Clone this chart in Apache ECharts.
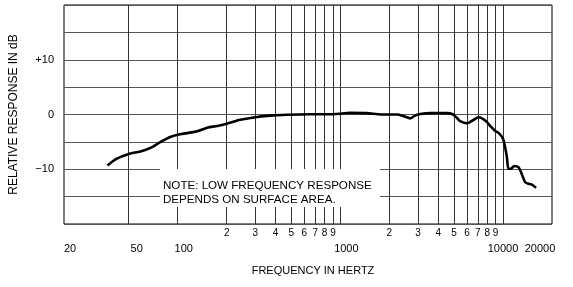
<!DOCTYPE html>
<html>
<head>
<meta charset="utf-8">
<script src="https://cdn.jsdelivr.net/npm/echarts@6/dist/echarts.min.js"></script>
<style>
html,body{margin:0;padding:0;background:#fff;}
#chart{width:573px;height:287px;}
</style>
</head>
<body>
<div id="chart"></div>
<script>
// Frequency (Hz) and relative response (dB)
const freqs = [37, 42, 50, 59, 68, 78, 90, 100, 114, 132, 152, 175, 200, 243, 300, 354, 470, 650, 800, 1000, 1150, 1450, 1800, 2230, 2450, 2690, 2880, 3100, 3600, 4500, 4900, 5200, 5450, 6000, 6580, 7100, 7770, 8530, 8950, 9420, 9980, 10300, 10560, 10800, 11170, 11700, 12440, 13050, 13680, 14330, 15030, 15960];
const dbs   = [-9.3, -8.1, -7.2, -6.75, -6.1, -5.05, -4.1, -3.7, -3.4, -3.05, -2.4, -2.1, -1.7, -0.97, -0.5, -0.25, -0.05, 0.05, 0.05, 0.15, 0.3, 0.25, 0, 0, -0.3, -0.7, -0.2, 0.1, 0.25, 0.25, 0.05, -0.6, -1.2, -1.6, -1.0, -0.5, -1.1, -2.4, -3.0, -3.4, -4.4, -6.0, -7.8, -9.9, -9.9, -9.4, -9.6, -10.9, -12.35, -12.65, -12.8, -13.4];

// Axis ticks / grid lines
const majorTicks = [20, 50, 100, 1000, 10000, 20000];
const minorTicks = [200, 300, 400, 500, 600, 700, 800, 900, 2000, 3000, 4000, 5000, 6000, 7000, 8000, 9000];
const gridFreqs = [50, 100, 200, 300, 400, 500, 600, 700, 800, 900, 1000, 2000, 3000, 4000, 5000, 6000, 7000, 8000, 9000, 10000];
const yLabels = {'-10': '\u221210', '0': '0', '10': '+10'};
const noteLines = ['NOTE: LOW FREQUENCY RESPONSE', 'DEPENDS ON SURFACE AREA.'];

const FONT = '"Liberation Sans", Arial, Helvetica, sans-serif';
const chart = echarts.init(document.getElementById('chart'), null, {renderer: 'canvas'});

const majorRich = {
  a: {fontSize: 11, fontFamily: FONT, color: '#000', padding: [0, 0, 0, 12]},
  b: {fontSize: 11, fontFamily: FONT, color: '#000', padding: [0, 0, 0, 16]},
  c: {fontSize: 11, fontFamily: FONT, color: '#000', padding: [0, 0, 0, 0]},
  d: {fontSize: 11, fontFamily: FONT, color: '#000', padding: [0, 24, 0, 0]}
};

chart.setOption({
  animation: false,
  backgroundColor: '#fff',
  grid: {left: 63, right: 21, top: 5, bottom: 63, show: true, borderColor: '#000', borderWidth: 1, backgroundColor: 'transparent'},
  xAxis: [{
    type: 'log', logBase: 10, min: 20, max: 20000,
    name: 'FREQUENCY IN HERTZ', nameLocation: 'middle', nameGap: 41,
    nameTextStyle: {fontSize: 11, fontFamily: FONT, color: '#000', padding: [0, 0, 0, 10]},
    axisLine: {show: false}, axisTick: {show: false}, splitLine: {show: false}, minorSplitLine: {show: false},
    axisLabel: {
      customValues: majorTicks, margin: 19, fontSize: 11, fontFamily: FONT, color: '#000',
      formatter: function (v) {
        const r = Math.round(v);
        if (r === 50) return '{b|' + r + '}';
        if (r === 10000) return '{c|' + r + '}';
        if (r === 20000) return '{d|' + r + '}';
        return '{a|' + r + '}';
      },
      rich: majorRich
    }
  }, {
    type: 'log', logBase: 10, min: 20, max: 20000, position: 'bottom', gridIndex: 0,
    axisLine: {show: false}, axisTick: {show: false}, splitLine: {show: false},
    axisLabel: {
      customValues: minorTicks, margin: 4, fontSize: 10, fontFamily: FONT, color: '#000',
      formatter: function (v) {
        const r = Math.round(v);
        return String(r).charAt(0);
      }
    }
  }],
  yAxis: {
    type: 'value', min: -20, max: 20, interval: 5,
    name: 'RELATIVE RESPONSE IN dB', nameLocation: 'middle', nameGap: 44, nameRotate: 90,
    nameTextStyle: {fontSize: 12, fontFamily: FONT, color: '#000'},
    axisLine: {show: false}, axisTick: {show: false},
    splitLine: {show: true, lineStyle: {color: '#555', width: 1}},
    axisLabel: {
      margin: 10, fontSize: 11, fontFamily: FONT, color: '#000',
      formatter: function (v) { return yLabels[String(v)] || ''; }
    }
  },
  series: [{
    type: 'line',
    xAxisIndex: 0,
    data: freqs.map((f, i) => [f, dbs[i]]),
    smooth: 0.3,
    showSymbol: false,
    symbol: 'none',
    lineStyle: {color: '#000', width: 2.6},
    z: 5,
    markLine: {
      silent: true, symbol: ['none', 'none'], animation: false,
      label: {show: false},
      lineStyle: {color: '#333', width: 1, type: 'solid'},
      data: gridFreqs.map(v => ({xAxis: v}))
    }
  }],
  graphic: [
    {type: 'rect', z: 100, zlevel: 1, shape: {x: 160, y: 169, width: 220, height: 38}, style: {fill: '#fff'}},
    {type: 'text', z: 101, zlevel: 1, x: 163, y: 186, style: {text: noteLines[0], font: '11.6px ' + FONT, fill: '#000', textVerticalAlign: 'middle'}},
    {type: 'text', z: 101, zlevel: 1, x: 163, y: 200, style: {text: noteLines[1], font: '11.6px ' + FONT, fill: '#000', textVerticalAlign: 'middle'}}
  ]
});
</script>
</body>
</html>
